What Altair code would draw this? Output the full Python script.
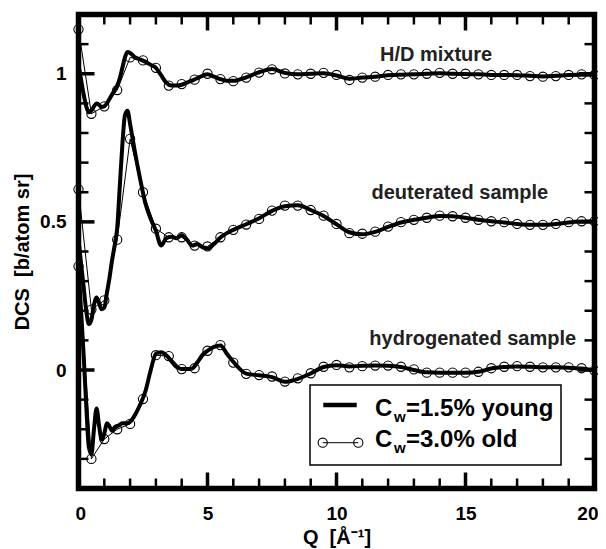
import altair as alt
import pandas as pd

# ---------------- data ----------------
q_old = [0, 0.5, 1, 1.5, 2, 2.5, 3, 3.5, 4, 4.5, 5, 5.5, 6, 6.5, 7, 7.5, 8, 8.5, 9, 9.5,
         10, 10.5, 11, 11.5, 12, 12.5, 13, 13.5, 14, 14.5, 15, 15.5, 16, 16.5, 17, 17.5,
         18, 18.5, 19, 19.5, 20]

hd_old = [1.15, 0.865, 0.89, 0.945, 1.055, 1.045, 1.02, 0.96, 0.965, 0.98, 1.0, 0.982,
          0.975, 0.987, 1.004, 1.015, 1.001, 0.998, 1.0, 1.003, 0.996, 0.979, 0.987, 0.99,
          0.996, 0.998, 0.998, 1.0, 1.003, 1.0, 1.0, 0.998, 0.996, 0.996, 0.996, 0.992,
          0.99, 0.992, 0.996, 0.998, 0.996]

d_old = [0.61, 0.204, 0.235, 0.44, 0.78, 0.60, 0.477, 0.448, 0.448, 0.42, 0.417, 0.448,
         0.473, 0.491, 0.51, 0.538, 0.555, 0.555, 0.54, 0.521, 0.493, 0.462, 0.46, 0.467,
         0.484, 0.499, 0.507, 0.514, 0.521, 0.519, 0.514, 0.507, 0.502, 0.499, 0.493, 0.49,
         0.49, 0.493, 0.499, 0.502, 0.502]

h_old = [0.35, -0.30, -0.233, -0.2, -0.182, -0.098, 0.05, 0.047, 0.003, 0.006, 0.065, 0.084,
         0.025, -0.013, -0.017, -0.022, -0.039, -0.028, -0.011, 0.011, 0.017, 0.009, 0.013,
         0.015, 0.015, 0.011, 0.002, -0.009, -0.009, -0.009, -0.009, -0.006, 0.006, 0.011,
         0.013, 0.011, 0.009, 0.009, 0.009, 0.006, -0.002]

q_young = [0, 0.1, 0.2, 0.3, 0.4, 0.5, 0.6, 0.7, 0.8, 0.9, 1.0, 1.1, 1.2, 1.3, 1.4, 1.5, 1.6,
           1.7, 1.8, 1.9, 2.0, 2.2, 2.4, 2.6, 2.8, 3.0, 3.2, 3.4, 3.6, 3.8, 4.0, 4.2, 4.4,
           4.6, 4.8, 5.0, 5.25, 5.5, 5.75, 6.0, 6.5, 7.0, 7.5, 8.0, 8.5, 9.0, 9.5, 10.0,
           10.5, 11.0, 11.5, 12.0, 12.5, 13.0, 13.5, 14.0, 14.5, 15.0, 15.5, 16.0, 16.5,
           17.0, 17.5, 18.0, 18.5, 19.0, 19.5, 20.0]

hd_young = [1.03, 0.98, 0.93, 0.89, 0.87, 0.875, 0.89, 0.90, 0.895, 0.888, 0.89, 0.90, 0.915,
            0.93, 0.945, 0.96, 0.985, 1.02, 1.055, 1.073, 1.07,
            1.055, 1.048, 1.04, 1.03, 1.02, 0.995, 0.97, 0.96, 0.96, 0.963, 0.97, 0.977,
            0.985, 0.993, 0.998,
            0.99, 0.982, 0.976, 0.976,
            0.988, 1.005, 1.016, 1.003, 0.998, 1.0, 1.002, 0.994, 0.983, 0.987, 0.99, 0.995,
            0.997, 0.998, 1.0, 1.002, 1.0, 0.999, 0.998, 0.996, 0.996, 0.995, 0.993, 0.991,
            0.993, 0.996, 0.997, 0.997]

d_young = [0.44, 0.36, 0.28, 0.2, 0.155, 0.17, 0.22, 0.245, 0.225, 0.205, 0.21, 0.26, 0.31,
           0.37, 0.42, 0.48, 0.62, 0.76, 0.86, 0.875, 0.83,
           0.73, 0.64, 0.56, 0.51, 0.47, 0.42, 0.445, 0.45, 0.445, 0.455, 0.44, 0.42, 0.425,
           0.415, 0.41,
           0.425, 0.447, 0.462, 0.473,
           0.492, 0.512, 0.537, 0.553, 0.556, 0.54, 0.52, 0.492, 0.465, 0.458, 0.466, 0.483,
           0.498, 0.507, 0.514, 0.52, 0.519, 0.514, 0.507, 0.502, 0.498, 0.493, 0.49, 0.49,
           0.493, 0.498, 0.501, 0.502]

h_young = [0.35, 0.2, 0.05, -0.12, -0.26, -0.285, -0.2, -0.13, -0.19, -0.235, -0.215, -0.18,
           -0.19, -0.205, -0.195, -0.19, -0.185, -0.18, -0.18, -0.18, -0.175,
           -0.15, -0.115, -0.07, 0.0, 0.055, 0.06, 0.05, 0.03, 0.01, 0.003, 0.003, 0.005,
           0.025, 0.05, 0.065,
           0.078, 0.083, 0.055, 0.028,
           -0.012, -0.018, -0.024, -0.04, -0.03, -0.012, 0.01, 0.016, 0.012, 0.014, 0.015,
           0.014, 0.01, 0.0, -0.008, -0.009, -0.009, -0.009, -0.006, 0.005, 0.01, 0.012,
           0.011, 0.009, 0.009, 0.008, 0.005, -0.002]

curve_names = ["H/D mixture", "deuterated sample", "hydrogenated sample"]
label_q = [13.86, 14.78, 15.28]
label_val = [1.043, 0.577, 0.084]

x_major = [0, 5, 10, 15, 20]
x_minor = [1, 2, 3, 4, 6, 7, 8, 9, 11, 12, 13, 14, 16, 17, 18, 19]
y_major = [0, 0.5, 1]
y_minor = [-0.3, -0.2, -0.1, 0.1, 0.2, 0.3, 0.4, 0.6, 0.7, 0.8, 0.9, 1.1]

legend_young = "=1.5% young"
legend_old = "=3.0% old"

# ---------------- tables ----------------
old_df = pd.concat([
    pd.DataFrame({"Q": q_old, "val": v, "curve": n})
    for v, n in zip([hd_old, d_old, h_old], curve_names)
])
young_df = pd.concat([
    pd.DataFrame({"Q": q_young, "val": v, "curve": n})
    for v, n in zip([hd_young, d_young, h_young], curve_names)
])
labels_df = pd.DataFrame({"Q": label_q, "val": label_val, "label": curve_names})

W, H = 516, 474
FONT = "Liberation Sans"
xs = alt.Scale(domain=[0, 20], nice=False, zero=False)
ys = alt.Scale(domain=[-0.4, 1.2], nice=False, zero=False)

x_enc = alt.X("Q:Q", scale=xs, axis=alt.Axis(
    title="Q\u00a0\u00a0[Å⁻¹]", values=x_major, ticks=False, tickSize=0, domain=False, grid=False,
    labelFont=FONT, labelFontSize=19, labelFontWeight="bold", labelColor="black",
    labelBaseline="alphabetic", labelPadding=31, labelFlush=True, labelFlushOffset=3.5,
    titleFont=FONT, titleFontSize=20, titleFontWeight="bold", titleColor="black",
    titleBaseline="alphabetic", titleY=55))
y_enc = alt.Y("val:Q", scale=ys, axis=alt.Axis(
    title="DCS\u00a0\u00a0[b/atom sr]", values=y_major, format="~g", ticks=False, tickSize=0,
    domain=False, grid=False,
    labelFont=FONT, labelFontSize=19, labelFontWeight="bold", labelColor="black",
    labelAlign="right", labelBaseline="middle", labelPadding=12.5, labelFlush=False,
    titleFont=FONT, titleFontSize=20, titleFontWeight="bold", titleColor="black",
    titleAngle=270, titleBaseline="alphabetic", titleAlign="center", titleX=-50, titleY=H / 2))

old_line = alt.Chart(old_df).mark_line(color="black", strokeWidth=1).encode(
    x=x_enc, y=y_enc, detail="curve:N")
old_pts = alt.Chart(old_df).mark_point(shape="circle", filled=False, color="black", size=85,
                                       strokeWidth=1.1, opacity=1).encode(
    x=alt.X("Q:Q", scale=xs), y=alt.Y("val:Q", scale=ys))
young_line = alt.Chart(young_df).mark_line(color="black", strokeWidth=4, interpolate="monotone",
                                           strokeJoin="round").encode(
    x=alt.X("Q:Q", scale=xs), y=alt.Y("val:Q", scale=ys), detail="curve:N")

labels = alt.Chart(labels_df).mark_text(font=FONT, fontSize=20, fontWeight="bold", color="#222",
                                        align="center", baseline="alphabetic").encode(
    x=alt.X("Q:Q", scale=xs), y=alt.Y("val:Q", scale=ys), text="label:N")


def xticks(vals, length, sw):
    d = pd.DataFrame({"Q": vals})
    bot = alt.Chart(d).mark_rule(color="black", strokeWidth=sw).encode(
        x=alt.X("Q:Q", scale=xs), y=alt.value(H), y2=alt.value(H - length))
    top = alt.Chart(d).mark_rule(color="black", strokeWidth=sw).encode(
        x=alt.X("Q:Q", scale=xs), y=alt.value(0), y2=alt.value(length))
    return [bot, top]


def yticks(vals, length, sw):
    d = pd.DataFrame({"val": vals})
    left = alt.Chart(d).mark_rule(color="black", strokeWidth=sw).encode(
        y=alt.Y("val:Q", scale=ys), x=alt.value(0), x2=alt.value(length))
    right = alt.Chart(d).mark_rule(color="black", strokeWidth=sw).encode(
        y=alt.Y("val:Q", scale=ys), x=alt.value(W), x2=alt.value(W - length))
    return [left, right]


ticks = xticks(x_major, 16, 3.5) + xticks(x_minor, 10, 2.5) + \
    yticks(y_major, 16, 3.5) + yticks(y_minor, 10, 2.5)

one = pd.DataFrame({"k": [0]})
lg_box = alt.Chart(one).mark_rect(fill="white", stroke="black", strokeWidth=1.5).encode(
    x=alt.value(231.5), x2=alt.value(482.5), y=alt.value(370.5), y2=alt.value(450.5))
lg_l1 = alt.Chart(one).mark_rule(color="black", strokeWidth=4.5).encode(
    x=alt.value(244.8), x2=alt.value(278.2), y=alt.value(390.5))
lg_l2 = alt.Chart(one).mark_rule(color="black", strokeWidth=1).encode(
    x=alt.value(244.2), x2=alt.value(279.8), y=alt.value(428.2))
lg_c1 = alt.Chart(one).mark_point(shape="circle", filled=False, color="black", size=85,
                                  strokeWidth=1.1, opacity=1).encode(
    x=alt.value(244.2), y=alt.value(428.2))
lg_c2 = alt.Chart(one).mark_point(shape="circle", filled=False, color="black", size=85,
                                  strokeWidth=1.1, opacity=1).encode(
    x=alt.value(279.8), y=alt.value(428.2))


def ltext(txt, x, y, size):
    return alt.Chart(one).mark_text(font=FONT, fontSize=size, fontWeight="bold", color="black",
                                    align="left", baseline="alphabetic", text=txt).encode(
        x=alt.value(x), y=alt.value(y))


lg_text = [
    ltext("C", 296.5, 401.2, 24), ltext("w", 315.5, 407.2, 15), ltext(legend_young, 327.5, 401.2, 24),
    ltext("C", 296.5, 432.2, 24), ltext("w", 315.5, 438.8, 15), ltext(legend_old, 327.5, 432.2, 24),
]

chart = alt.layer(
    old_line, young_line, old_pts, labels, *ticks,
    lg_box, lg_l1, lg_l2, lg_c1, lg_c2, *lg_text
).properties(
    width=W, height=H,
    autosize=alt.AutoSizeParams(type="none"),
    padding={"left": 70.5, "top": 6.5, "right": 3.5, "bottom": 60},
    background="white",
).configure_view(stroke="black", strokeWidth=5.5)

chart.save("out.html", embed_options={"renderer": "svg", "actions": False})
